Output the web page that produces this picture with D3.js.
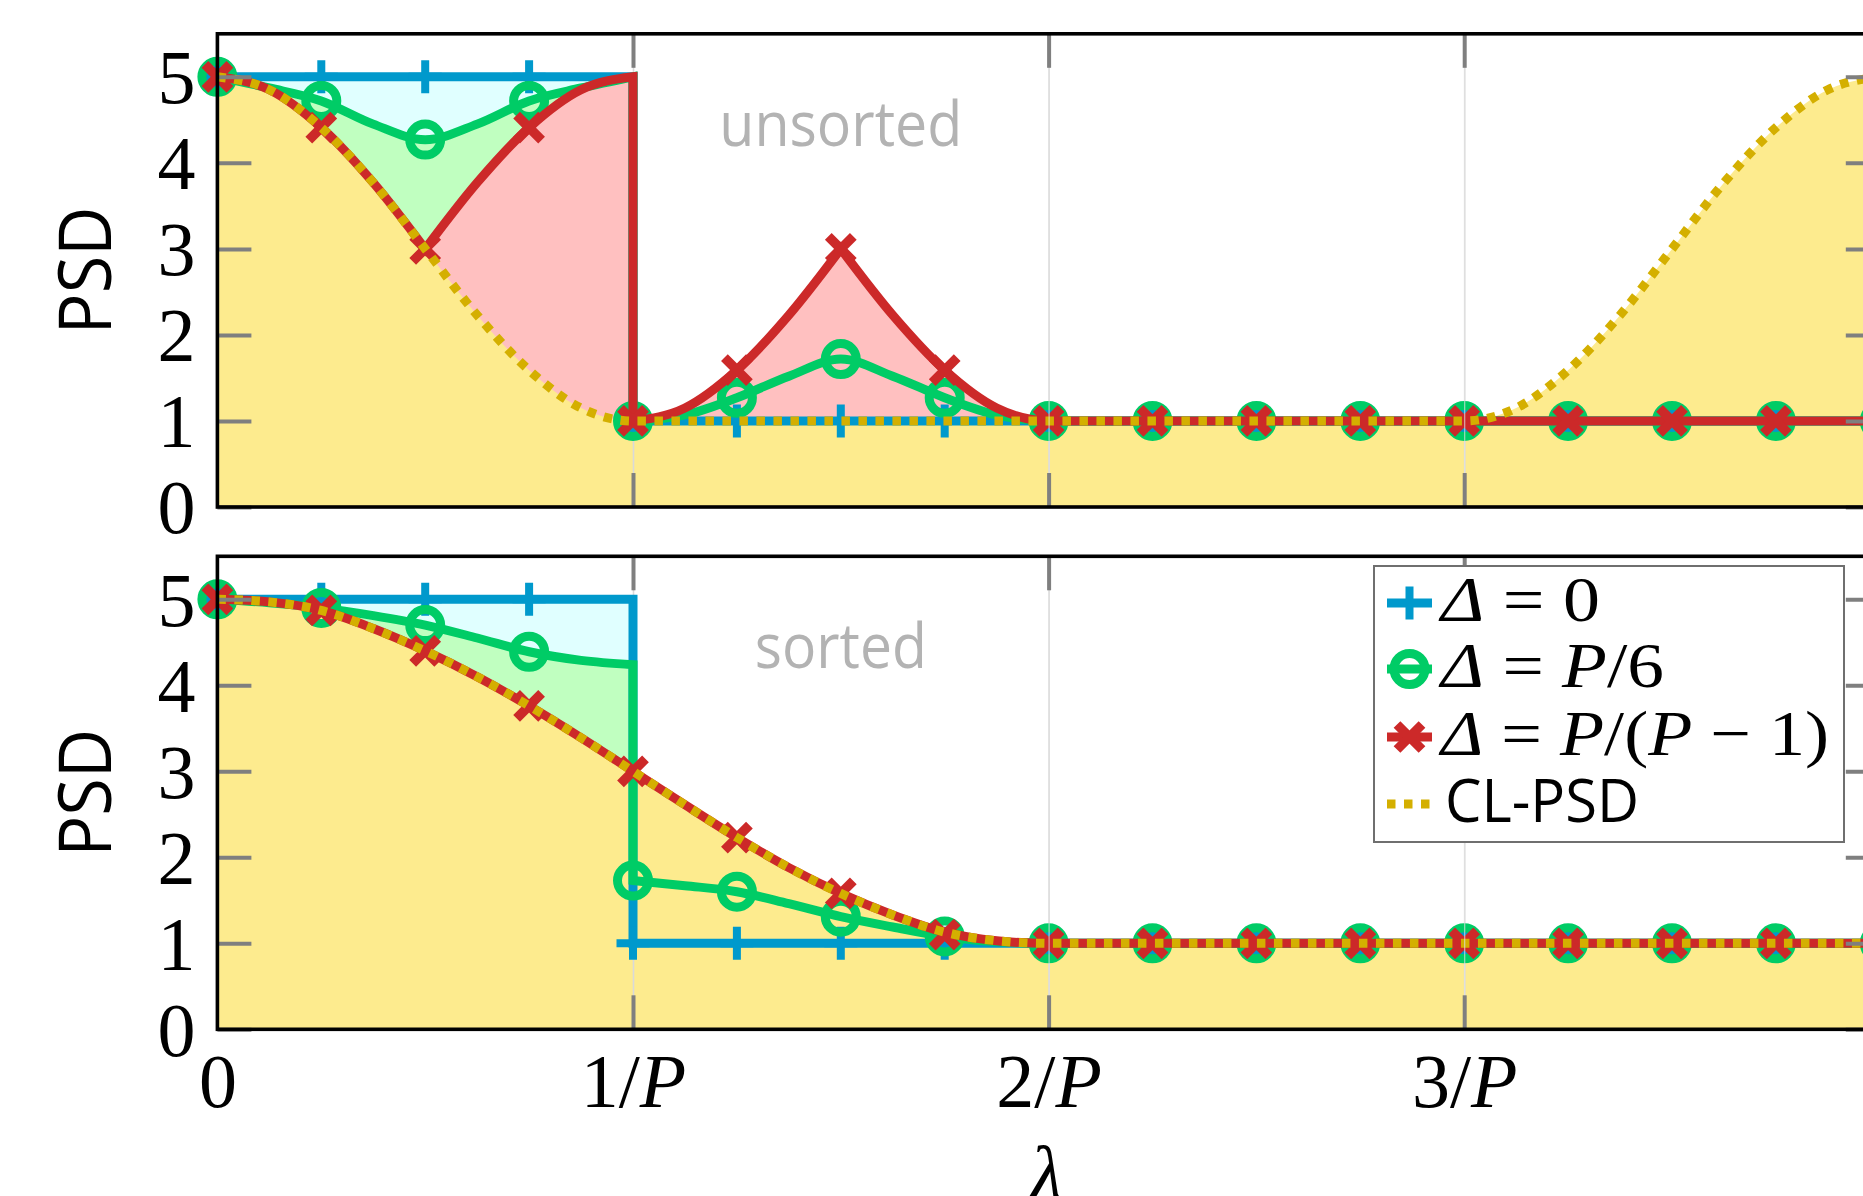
<!DOCTYPE html>
<html><head><meta charset="utf-8">
<script src="https://cdn.jsdelivr.net/npm/d3@7/dist/d3.min.js"></script>
<style>html,body{margin:0;padding:0;background:#fff;} svg{display:block;}</style>
</head><body>
<svg id="chart" width="1863" height="1196"></svg>
<script>
// ---------- DATA (lambda in units of 1/P) ----------
const markerX = [0,0.25,0.5,0.75,1,1.25,1.5,1.75,2,2.25,2.5,2.75,3,3.25,3.5,3.75,4];
const xTickValues = [0,1,2,3];
const xTickLabels = ["0","1/P","2/P","3/P"];
const yTickValues = [0,1,2,3,4,5];
const panelNames = ["unsorted","sorted"];
const seriesNames = ["Δ = 0","Δ = P/6","Δ = P/(P − 1)","CL-PSD"];

// unsorted (top panel)
const unsortedBlueMarks  = [5,5,5,5,1,1,1,1,1,1,1,1,1,1,1,1,1];
const unsortedGreenMarks = [5,4.72,4.27,4.72,1,1.27,1.72,1.27,1,1,1,1,1,1,1,1,1];
const unsortedRedMarks   = [5,4.41,3.0,4.41,1,1.59,3.0,1.59,1,1,1,1,1,1,1,1,1];
const unsortedBlueLine  = [[0,5],[1,5],[1,1],[4,1]];
const unsortedGreenLine = [[0,5],[0.125,4.87],[0.25,4.72],[0.375,4.45],[0.5,4.27],[0.625,4.45],[0.75,4.72],[0.875,4.87],[1,5],
                           [1,1],[1.125,1.07],[1.25,1.27],[1.375,1.52],[1.5,1.72],[1.625,1.52],[1.75,1.27],[1.875,1.07],[2,1],[4,1]];
const unsortedRedLine   = [[0,5],[0.125,4.85],[0.25,4.41],[0.375,3.77],[0.5,3.0],
                           [0.5,3.0],[0.625,3.77],[0.75,4.41],[0.875,4.85],[1,5],
                           [1,1],[1.125,1.15],[1.25,1.59],[1.375,2.23],[1.5,3.0],
                           [1.5,3.0],[1.625,2.23],[1.75,1.59],[1.875,1.15],[2,1],[4,1]];
const unsortedCLLine    = [[0,5],[0.125,4.85],[0.25,4.41],[0.375,3.77],[0.5,3.0],[0.625,2.23],[0.75,1.59],[0.875,1.15],[1,1],
                           [3,1],[3.125,1.15],[3.25,1.59],[3.375,2.23],[3.5,3.0],[3.625,3.77],[3.75,4.41],[3.875,4.85],[4,5]];

// sorted (bottom panel)
const sortedBlueMarks  = [5,5,5,5,1,1,1,1,1,1,1,1,1,1,1,1,1];
const sortedGreenMarks = [5,4.90,4.70,4.39,1.73,1.60,1.31,1.08,1,1,1,1,1,1,1,1,1];
const sortedRedMarks   = [5,4.87,4.40,3.76,3.0,2.23,1.58,1.10,1,1,1,1,1,1,1,1,1];
const sortedBlueLine  = [[0,5],[1,5],[1,1],[4,1]];
const sortedGreenLine = [[0,5],[0.125,4.96],[0.25,4.90],[0.375,4.81],[0.5,4.70],[0.625,4.55],[0.75,4.39],[0.875,4.29],[1,4.24],
                         [1,1.73],[1.125,1.67],[1.25,1.60],[1.375,1.46],[1.5,1.31],[1.625,1.19],[1.75,1.08],[1.875,1.02],[2,1],[4,1]];
const sortedRedLine   = [[0,5],[0.125,4.97],[0.25,4.87],[0.375,4.66],[0.5,4.40],[0.625,4.10],[0.75,3.76],[0.875,3.39],[1,3.0],
                         [1.125,2.61],[1.25,2.23],[1.375,1.88],[1.5,1.58],[1.625,1.33],[1.75,1.13],[1.875,1.03],[2,1],[4,1]];
const sortedCLLine    = [[0,5],[0.125,4.97],[0.25,4.87],[0.375,4.66],[0.5,4.40],[0.625,4.10],[0.75,3.76],[0.875,3.39],[1,3.0],
                         [1.125,2.61],[1.25,2.23],[1.375,1.88],[1.5,1.58],[1.625,1.33],[1.75,1.13],[1.875,1.03],[2,1],[4,1]];

// ---------- DRAWING ----------
const svg = d3.select("#chart");
const x = d3.scaleLinear().domain([0,4]).range([217.4,1879.8]);
const boxes = [{top:33.8,bottom:507},{top:556.3,bottom:1029.3}];
const COL = {blue:"#0099cc",green:"#00cc66",red:"#cc2929",gold:"#d4af00"};
const FILL = {blue:"#e0ffff",green:"#c0ffc0",red:"#ffc0c0",gold:"#fdeb8e"};
const SERIF = "'Liberation Serif','Times New Roman',serif";
const SANS = "'Open Sans','Noto Sans',sans-serif";
const LW = 9;

const panels = [
  {blue:[unsortedBlueLine,unsortedBlueMarks],green:[unsortedGreenLine,unsortedGreenMarks],
   red:[unsortedRedLine,unsortedRedMarks],cl:unsortedCLLine},
  {blue:[sortedBlueLine,sortedBlueMarks],green:[sortedGreenLine,sortedGreenMarks],
   red:[sortedRedLine,sortedRedMarks],cl:sortedCLLine}
];

function linePath(pts, y){
  const segs=[]; let cur=[pts[0]];
  for(let i=1;i<pts.length;i++){
    if(pts[i][0]===pts[i-1][0]){segs.push(cur);cur=[pts[i]];} else cur.push(pts[i]);
  }
  segs.push(cur);
  const gen=d3.line().x(d=>x(d[0])).y(d=>y(d[1])).curve(d3.curveMonotoneX);
  return segs.map((s,i)=>{
    const p = s.length>1 ? gen(s) : `M${x(s[0][0])},${y(s[0][1])}`;
    return i===0 ? p : "L"+p.slice(1);
  }).join("");
}
function areaPath(pts,y){
  return linePath(pts,y)+`L${x(pts[pts.length-1][0])},${y(0)}L${x(pts[0][0])},${y(0)}Z`;
}
const PLUS="M-16.5,0H16.5M0,-16.5V16.5", CROSS="M-12.5,-12.5L12.5,12.5M-12.5,12.5L12.5,-12.5";

function drawMarks(g, vals, y, kind, color){
  const sel = g.append("g").selectAll("path").data(markerX.map((d,i)=>[d,vals[i]])).join(kind==="circle"?"circle":"path");
  if(kind==="circle"){
    sel.attr("cx",d=>x(d[0])).attr("cy",d=>y(d[1])).attr("r",15.5)
       .attr("fill","none").attr("stroke",color).attr("stroke-width",9);
  } else {
    sel.attr("transform",d=>`translate(${x(d[0])},${y(d[1])})`).attr("d",kind==="plus"?PLUS:CROSS)
       .attr("fill","none").attr("stroke",color).attr("stroke-width",kind==="plus"?8:9.5);
  }
}

panels.forEach((p,pi)=>{
  const b=boxes[pi];
  const y=d3.scaleLinear().domain([0,5.5]).range([b.bottom,b.top]);
  const g=svg.append("g");
  // fills
  g.append("path").attr("d",areaPath(p.blue[0],y)).attr("fill",FILL.blue);
  g.append("path").attr("d",areaPath(p.green[0],y)).attr("fill",FILL.green);
  g.append("path").attr("d",areaPath(p.red[0],y)).attr("fill",FILL.red);
  g.append("path").attr("d",areaPath(p.cl,y)).attr("fill",FILL.gold);
  // grid (under lines, over fills)
  const grid=g.append("g").attr("transform",`translate(0,${b.bottom})`)
    .call(d3.axisBottom(x).tickValues([1,2,3]).tickSize(-(b.bottom-b.top)).tickFormat(""));
  grid.select(".domain").remove();
  grid.selectAll("line").attr("stroke","#d9d9d9").attr("stroke-width",1.6);
  // lines + markers
  g.append("path").attr("d",linePath(p.blue[0],y)).attr("fill","none").attr("stroke",COL.blue).attr("stroke-width",LW);
  drawMarks(g,p.blue[1],y,"plus",COL.blue);
  g.append("path").attr("d",linePath(p.green[0],y)).attr("fill","none").attr("stroke",COL.green).attr("stroke-width",LW);
  drawMarks(g,p.green[1],y,"circle",COL.green);
  g.append("path").attr("d",linePath(p.red[0],y)).attr("fill","none").attr("stroke",COL.red).attr("stroke-width",LW);
  drawMarks(g,p.red[1],y,"cross",COL.red);
  g.append("path").attr("d",linePath(p.cl,y)).attr("fill","none").attr("stroke",COL.gold)
    .attr("stroke-width",LW).attr("stroke-dasharray","8.5 8.5");
  // faint grid over marks
  const grid2=g.append("g").attr("transform",`translate(0,${b.bottom})`)
    .call(d3.axisBottom(x).tickValues([2,3]).tickSize(-(b.bottom-b.top)).tickFormat(""));
  grid2.select(".domain").remove();
  grid2.selectAll("line").attr("stroke","#e3e3e3").attr("stroke-width",1.2).attr("stroke-opacity",0.7);

  // ticks
  const tickStyle = s=>{ s.select(".domain").remove(); s.selectAll("line").attr("stroke","#7f7f7f").attr("stroke-width",4); };
  const la=g.append("g").attr("transform",`translate(${x(0)},0)`)
    .call(d3.axisLeft(y).tickValues(yTickValues).tickSize(-34).tickPadding(22).tickFormat(d3.format("d")));
  tickStyle(la);
  la.attr("font-family",SERIF).attr("font-size",76);
  la.selectAll("text").attr("fill","#000").attr("dy","0.34em");
  const ra=g.append("g").attr("transform",`translate(${x(4)},0)`)
    .call(d3.axisRight(y).tickValues(yTickValues).tickSize(-34).tickFormat(""));
  tickStyle(ra);
  const ta=g.append("g").attr("transform",`translate(0,${b.top})`)
    .call(d3.axisTop(x).tickValues([1,2,3]).tickSize(-34).tickFormat(""));
  tickStyle(ta);
  const ba=g.append("g").attr("transform",`translate(0,${b.bottom})`)
    .call(d3.axisBottom(x).tickValues(pi===1?xTickValues:[1,2,3]).tickSize(-34).tickPadding(24)
      .tickFormat(pi===1?((d,i)=>xTickLabels[i]):""));
  tickStyle(ba);
  ba.selectAll(".tick").filter(d=>d===0).select("line").remove();
  ba.attr("font-family",SERIF).attr("font-size",76);
  ba.selectAll("text").attr("fill","#000").each(function(){
    const t=d3.select(this); const s=t.text();
    if(s.includes("/")){
      const [a,bb]=s.split("/");
      t.text(""); t.append("tspan").text(a+"/"); t.append("tspan").attr("font-style","italic").text(bb);
    }
  });

  // border
  g.append("rect").attr("x",x(0)).attr("y",b.top).attr("width",x(4)-x(0)).attr("height",b.bottom-b.top)
    .attr("fill","none").attr("stroke","#000").attr("stroke-width",3.6);

  // annotation
  g.append("text").attr("x",x(1.5)).attr("y",y(4.2)).attr("text-anchor","middle")
    .attr("font-family",SANS).attr("font-size",62).attr("fill","#b3b3b3")
    .attr("textLength",pi===0?243:172).attr("lengthAdjust","spacingAndGlyphs").text(panelNames[pi]);

  // y label
  g.append("text").attr("transform",`translate(111,${(b.top+b.bottom)/2}) rotate(-90)`)
    .attr("text-anchor","middle").attr("font-family",SANS).attr("font-size",74).attr("fill","#000")
    .attr("textLength",128).attr("lengthAdjust","spacingAndGlyphs").text("PSD");
});

// x label
svg.append("text").attr("x",x(2)-2).attr("y",1199).attr("text-anchor","middle")
  .attr("font-family",SERIF).attr("font-style","italic").attr("font-size",76).attr("fill","#000").text("λ");

// legend
const lg=svg.append("g");
lg.append("rect").attr("x",1374).attr("y",566).attr("width",470).attr("height",276)
  .attr("fill","#fff").attr("stroke","#6f6f6f").attr("stroke-width",2);
const legendY=[603,669,737,804];
const legendW=[159,223,388,194];
const legendKinds=["plus","circle","cross","dots"];
const legendCols=[COL.blue,COL.green,COL.red,COL.gold];
legendKinds.forEach((k,i)=>{
  const cy=legendY[i];
  if(k==="dots"){
    lg.append("line").attr("x1",1387).attr("x2",1430).attr("y1",cy).attr("y2",cy)
      .attr("stroke",COL.gold).attr("stroke-width",LW).attr("stroke-dasharray","8.5 8.5");
  } else {
    lg.append("line").attr("x1",1387).attr("x2",1432).attr("y1",cy).attr("y2",cy)
      .attr("stroke",legendCols[i]).attr("stroke-width",LW);
    if(k==="circle") lg.append("circle").attr("cx",1409.5).attr("cy",cy).attr("r",15.5)
      .attr("fill","none").attr("stroke",legendCols[i]).attr("stroke-width",9);
    else lg.append("path").attr("transform",`translate(1409.5,${cy})`).attr("d",k==="plus"?PLUS:CROSS)
      .attr("fill","none").attr("stroke",legendCols[i]).attr("stroke-width",k==="plus"?8:9.5);
  }
  const t=lg.append("text").attr("x",i===3?1445:1441).attr("y",cy+17.5).attr("fill","#000")
    .attr("textLength",legendW[i]).attr("lengthAdjust","spacingAndGlyphs");
  const name=seriesNames[i];
  if(i===3){ t.attr("font-family",SANS).attr("font-size",60).text(name); }
  else {
    t.attr("font-family",SERIF).attr("font-size",64);
    name.split(/([ΔP])/).filter(s=>s.length).forEach(s=>{
      t.append("tspan").attr("font-style",(s==="Δ"||s==="P")?"italic":"normal").text(s);
    });
  }
});
</script>
</body></html>
